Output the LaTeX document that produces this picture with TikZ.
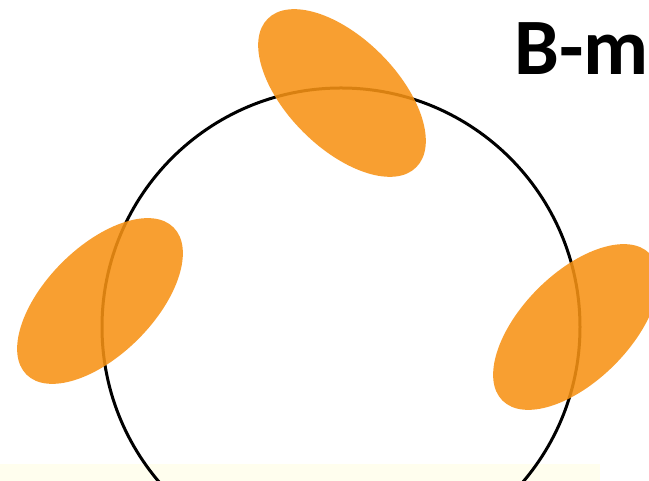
\documentclass[tikz,border=0pt]{standalone}
\usepackage{fontspec}
\setmainfont{Carlito}
\usepackage{xcolor}
\definecolor{blobfill}{RGB}{247,146,20}
\definecolor{hazefill}{RGB}{255,254,238}

\begin{document}
\begin{tikzpicture}[
    x=1pt, y=1pt,
    ring/.style={draw=black, line width=3pt},
    blob/.style={fill=blobfill, fill opacity=0.88},
    haze/.style={fill=hazefill},
    heading/.style={anchor=base west, inner sep=0pt, font=\fontsize{80}{80}\selectfont\bfseries}
]
    % Draw frame
    \useasboundingbox (0,0) rectangle (649,481);
    \clip (0,0) rectangle (649,481);
    \fill[haze] (0,0) rectangle (600,17);

    % Draw ring
    \draw[ring] (341,154) circle (239pt);

    % Draw blobs
    \fill[blob, rotate around={-45:(342,388)}] (342,388) ellipse (105pt and 55pt);
    \fill[blob, rotate around={45:(100,180)}] (100,180) ellipse (104pt and 54pt);
    \fill[blob, rotate around={45:(576,154)}] (576,154) ellipse (104pt and 54pt);

    % Draw title
    \node (title) [heading] at (514,406) {B-m};
\end{tikzpicture}
\end{document}
